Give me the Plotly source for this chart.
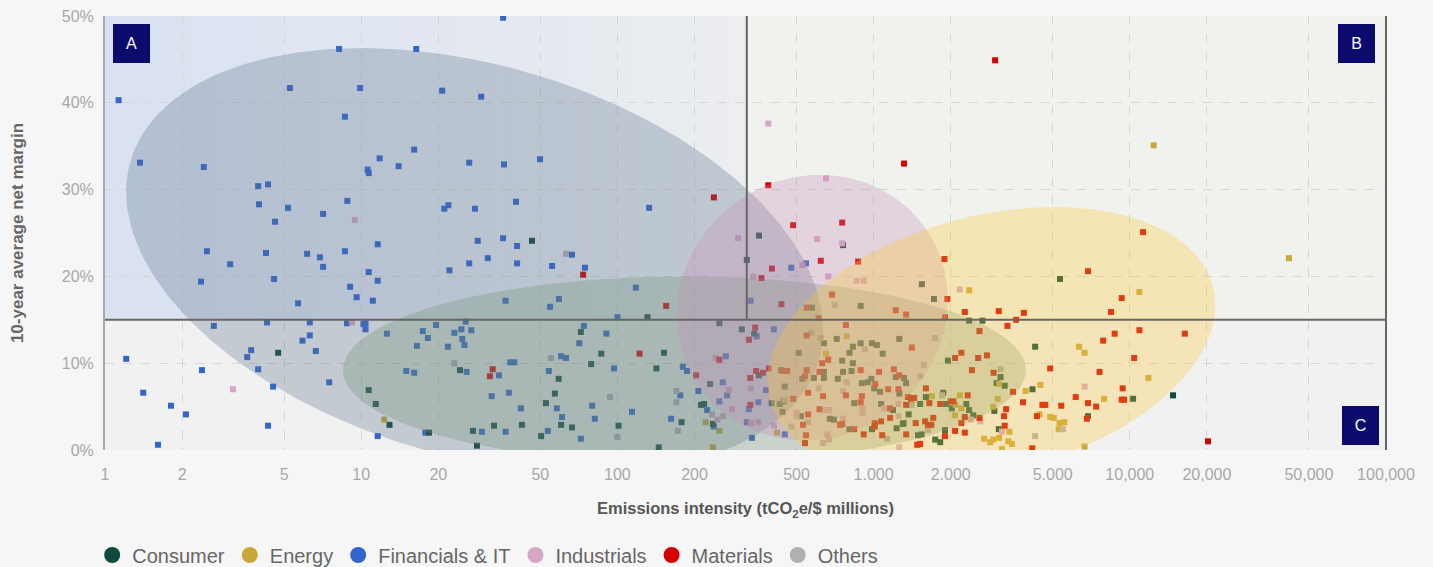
import numpy as np
import plotly.graph_objects as go

# ---------------- data ----------------
categories = ["Consumer", "Energy", "Financials & IT", "Industrials", "Materials", "Others"]

fin_x = [8.2, 16.4, 5.27, 9.9, 1.13, 8.64, 16.1, 11.8, 14.0, 10.6, 10.7, 1.37, 2.43, 3.96, 4.33, 3.99, 5.18, 8.83, 7.1, 4.61,
         11.6, 2.5, 4.25, 6.15, 6.9, 8.64, 3.08, 7.1, 2.37, 4.57, 10.7, 11.6, 9.05, 9.6, 11.1, 5.67,
         35.8, 20.7, 29.4, 26.4, 36.1, 49.9, 21.1, 21.9, 27.8, 40.2, 133, 28.5, 35.8, 40.6, 26.4, 31.2, 40.6, 22.1, 66.5,
         55.6, 74.7, 118, 36.6, 59.1, 54.6, 100, 331,
         2.66, 4.29, 6.3, 8.8, 10.2, 10.4, 10.4, 12.6, 17.4, 18.2, 16.5, 5.9, 6.3, 6.65, 3.72, 3.59, 1.21, 2.39, 3.96, 7.5,
         4.53, 1.41, 1.81, 2.07, 4.33, 1.61, 11.6, 15.0, 16.1, 17.8,
         19.6, 23.1, 24.6, 25.6, 26.9, 24.8, 25.3, 21.8, 25.8, 34.5, 32.3, 29.6,
         74, 90.6, 71, 97, 180, 187, 38.2, 39.6, 60.3, 63, 54, 37.7, 58, 42, 60.8, 79.7, 81.6, 114, 176, 162, 72, 53.5, 36.6,
         545, 477, 350, 408, 265, 380, 355, 258, 207, 268, 250, 326, 224, 238, 320, 335, 450]
fin_y = [46.2, 46.2, 41.7, 41.7, 40.3, 38.4, 34.6, 33.6, 32.7, 32.3, 31.9, 33.1, 32.6, 30.4, 30.6, 28.3, 27.9, 28.7, 27.2, 26.3,
         23.7, 22.9, 22.7, 22.6, 22.2, 22.9, 21.4, 21.1, 19.4, 19.7, 20.5, 19.5, 18.8, 17.6, 17.2, 16.9,
         49.8, 41.4, 40.7, 33.1, 32.9, 33.5, 27.8, 28.2, 27.8, 28.6, 27.9, 24.1, 24.4, 23.5, 21.5, 22.1, 21.5, 20.7, 22.5,
         21.2, 21.0, 18.7, 17.2, 17.4, 16.5, 15.3, 17.2,
         14.3, 14.7, 14.7, 14.6, 14.5, 14.6, 13.9, 13.4, 13.7, 12.9, 12.0, 12.6, 13.2, 11.4, 11.5, 10.7, 10.5, 9.2, 9.3, 7.8,
         7.3, 6.6, 5.1, 4.1, 2.8, 0.6, 1.6, 9.1, 8.9, 2.0,
         14.4, 13.5, 13.9, 14.8, 13.8, 12.8, 12.1, 11.9, 9.0, 8.6, 6.2, 2.1,
         14.3, 13.4, 12.3, 9.4, 9.6, 9.1, 10.1, 10.1, 10.8, 10.6, 9.1, 6.6, 4.8, 4.8, 3.8, 5.1, 3.6, 4.4, 6.3, 3.6, 1.3, 2.2, 2.1,
         21.5, 21.0, 13.1, 13.9, 10.8, 6.9, 5.5, 7.8, 6.8, 6.3, 5.6, 4.7, 4.6, 2.7, 3.2, 1.4, 1.8]

cons_x = [46.4, 357, 320, 131, 4.74, 10.7, 11.4, 12.9, 18.4, 24.3, 33.0, 27.3, 28.3, 72, 86.5, 152, 79, 142, 59, 57,
          52.6, 178, 145, 101, 66.5, 60.3, 50.4, 42.4, 760, 1543, 575, 890, 1720, 250, 306, 342, 640, 718, 830, 890,
          985, 1030, 1260, 1085, 805, 510, 754, 830, 1950, 760, 820, 1220, 1315, 1340, 357, 435, 640, 527, 585, 640,
          725, 900, 950, 980, 1005, 1060, 1260, 1600, 1870, 2020, 1520, 1190, 1070, 840, 450, 445, 430, 400, 230, 218,
          212, 236, 441, 520, 675, 700, 805, 985, 1300, 1310, 1230, 1370, 1490, 1540, 1740, 1820, 1900, 1920,
          5340, 2360, 2660, 4270, 3130, 3020, 3250, 4170, 14750, 10300, 6870, 3080, 2960, 2300, 2360, 2450]
cons_y = [24.1, 24.7, 21.9, 15.3, 11.2, 6.9, 5.3, 2.9, 2.0, 9.2, 2.8, 2.2, 0.5, 13.6, 11.1, 11.2, 9.9, 9.4, 8.2, 6.5,
          5.4, 3.2, 0.3, 2.8, 2.6, 2.9, 1.6, 2.9, 23.6, 19.1, 16.4, 16.6, 17.4, 14.6, 13.9, 13.4, 12.3, 12.8, 11.9, 12.3,
          12.3, 12.1, 12.8, 11.1, 11.2, 11.2, 10.3, 10.0, 10.3, 9.0, 9.1, 8.4, 8.3, 7.7, 8.6, 9.2, 9.0, 8.2, 8.3, 8.3,
          8.2, 7.7, 7.8, 8.2, 7.1, 6.7, 6.5, 6.1, 6.6, 4.8, 5.3, 4.6, 5.3, 5.4, 7.3, 5.6, 5.3, 5.4, 7.6, 5.3,
          5.2, 3.0, 4.4, 3.9, 3.6, 3.5, 2.4, 2.4, 3.0, 3.1, 2.5, 4.1, 1.7, 1.8, 1.2, 0.9, 2.3, 5.3,
          19.7, 14.9, 14.9, 11.9, 8.4, 7.7, 7.4, 7.0, 6.3, 5.9, 3.9, 2.4, 4.5, 5.3, 4.6, 4.0]

ene_x = [12.3, 785, 652, 1690, 2090, 221, 250, 236, 420, 2080, 41800, 10900, 2360, 6340, 6660, 3090, 11820, 4480, 3920, 7940,
         4440, 4890, 5050, 5550, 5320, 5280, 6660, 3390, 3360, 3470, 3090, 2930, 2850, 2700, 3170, 2930, 3050, 2200, 2170, 12400]
ene_y = [3.5, 13.1, 11.1, 6.2, 5.2, 3.2, 2.2, 0.3, 2.0, 4.0, 22.1, 18.2, 18.4, 11.9, 11.2, 7.6, 8.3, 7.5, 6.8, 5.9,
         4.1, 3.8, 3.7, 3.2, 3.1, 2.4, 0.4, 2.1, 1.0, 0.7, 1.4, 1.2, 0.9, 1.3, 0.1, 5.0, 5.9, 4.8, 6.3, 35.1]

ind_x = [9.45, 296, 339, 9.2, 3.16, 652, 602, 754, 527, 665, 860, 917, 242, 1250, 760, 332, 272, 280, 258, 234,
         246, 332, 355, 408, 500, 500, 652, 670, 635, 660, 670, 760, 905, 905, 1100, 1250, 1260, 388, 2170, 6660,
         3170, 2610, 2400]
ind_y = [26.5, 24.4, 20.0, 14.7, 7.0, 31.3, 24.3, 23.8, 21.3, 20.0, 19.5, 19.5, 10.6, 5.3, 6.8, 7.1, 6.9, 4.7, 3.9, 4.1,
         3.5, 3.1, 3.2, 2.8, 4.3, 3.9, 4.6, 4.6, 0.8, 1.8, 1.2, 3.6, 4.8, 4.3, 4.8, 3.9, 0.3, 37.6, 18.5, 7.3,
         2.1, 3.3, 3.5]

mat_x = [238, 73.5, 155, 32.6, 31.8, 122, 203, 1315, 388, 485, 754, 622, 870, 401, 365, 1890, 437, 688, 548, 1940,
         1220, 1340, 1900, 610, 345, 326, 780, 548, 1410, 250, 630, 665, 2080, 890, 1050, 1200, 1260, 348, 370, 330,
         390, 445, 460, 548, 615, 540, 1015, 1140, 1250, 1600, 1360, 1400, 1440, 2000, 2050, 1820, 1650, 1340, 1160, 890,
         900, 780, 635, 555, 485, 330, 555, 530, 545, 540, 615, 740, 754, 840, 915, 1010, 1010, 1070, 1080, 1160,
         1460, 1590, 1630, 1680, 1710, 1340, 1480, 1520, 1900, 2080, 11270, 6870, 9300, 8450, 2270, 3080, 3860, 3600, 3330, 2590,
         16400, 10900, 8730, 7870, 10400, 2200, 2560, 2770, 2420, 2940, 4890, 7620, 9380, 3500, 9300, 9500, 6150, 6870, 7390, 5400,
         4560, 4680, 3830, 3290, 3230, 4340, 6800, 4160, 3250, 2590, 2200, 2270, 2270, 2330, 2980, 20200]
mat_y = [29.1, 20.2, 16.6, 9.3, 8.5, 11.1, 8.6, 33.0, 30.5, 25.9, 26.2, 21.8, 21.7, 20.9, 19.8, 22.0, 16.8, 17.9, 16.4, 17.4,
         16.1, 15.6, 15.3, 15.2, 14.1, 12.7, 14.4, 13.2, 11.8, 10.4, 10.0, 10.4, 10.6, 9.2, 9.0, 9.3, 8.6, 9.1, 8.9, 8.3,
         9.4, 9.1, 9.1, 9.2, 9.0, 8.5, 7.6, 7.0, 7.0, 7.1, 6.1, 5.9, 6.0, 5.6, 5.6, 5.3, 5.4, 5.2, 4.8, 5.5,
         6.2, 6.3, 6.2, 6.6, 5.9, 5.2, 4.1, 2.9, 1.7, 0.8, 4.7, 2.9, 3.0, 2.4, 1.8, 3.1, 2.7, 3.3, 1.7, 3.7,
         3.1, 3.3, 2.9, 2.9, 3.7, 1.8, 0.6, 0.7, 1.6, 2.2, 25.1, 20.6, 17.5, 15.9, 15.9, 16.0, 15.8, 15.0, 14.3, 13.7,
         13.4, 13.8, 13.4, 12.6, 10.6, 11.2, 10.6, 10.9, 9.2, 8.9, 9.4, 9.0, 7.1, 6.7, 5.8, 5.8, 6.1, 5.4, 5.0, 5.1,
         5.2, 5.2, 5.5, 4.7, 3.9, 3.9, 3.6, 0.2, 2.8, 3.7, 3.1, 2.0, 3.8, 6.3, 44.9, 1.0]

oth_x = [63, 23.1, 55, 93.5, 170, 170, 172, 100, 705, 570, 622, 925, 1740, 1570, 1520, 1850, 1410, 610, 785, 450,
         477, 555, 1630, 1130, 3130, 5480, 4270]
oth_y = [22.6, 10.0, 10.6, 6.1, 6.8, 5.5, 2.2, 1.5, 16.7, 13.5, 12.9, 11.6, 12.9, 9.8, 8.5, 6.3, 5.2, 7.1, 7.8, 5.8,
         2.7, 3.2, 2.3, 1.3, 9.3, 2.4, 1.6]

# sector clusters (ellipses): centre, half-extent (decades / %-points), correlation
ell_cx = [27.7, 182.7, 577, 2884]
ell_cy = [21.8, 9.2, 16.4, 12.3]
ell_sx = [1.36, 1.333, 0.529, 0.874]
ell_sy = [24.5, 10.8, 15.3, 15.7]
ell_rho = [-0.324, 0.0, 0.057, 0.279]

x_tickvals = [1, 2, 5, 10, 20, 50, 100, 200, 500, 1000, 2000, 5000, 10000, 20000, 50000, 100000]
x_ticktext = ["1", "2", "5", "10", "20", "50", "100", "200", "500", "1.000", "2.000", "5.000",
              "10,000", "20,000", "50,000", "100,000"]
y_tickvals = [0, 10, 20, 30, 40, 50]
y_ticktext = ["0%", "10%", "20%", "30%", "40%", "50%"]

# ---------------- styling ----------------
FONT = "Liberation Sans"
cat_colors = ["#0e4a3c", "#c9a73c", "#3366cc", "#d9a5c5", "#d40000", "#b0b0b0"]
ell_fill = ["rgba(88,111,138,0.3)", "rgba(108,142,117,0.3)", "rgba(200,139,178,0.3)", "rgba(255,200,50,0.3)"]

series = [(cons_x, cons_y), (ene_x, ene_y), (fin_x, fin_y), (ind_x, ind_y), (mat_x, mat_y), (oth_x, oth_y)]

fig = go.Figure()
draw_order = [2, 0, 3, 1, 5, 4]
for i in draw_order:
    xs, ys = series[i]
    fig.add_trace(go.Scatter(x=xs, y=ys, mode="markers", name=categories[i], showlegend=False,
                             marker=dict(symbol="square", size=6, color=cat_colors[i], line=dict(width=0)),
                             hoverinfo="skip"))

t = np.linspace(0, 2 * np.pi, 240)
for k in range(len(ell_cx)):
    lx = np.log10(ell_cx[k]) + ell_sx[k] * np.cos(t)
    ly = ell_cy[k] + ell_sy[k] * (ell_rho[k] * np.cos(t) + np.sqrt(1 - ell_rho[k] ** 2) * np.sin(t))
    fig.add_trace(go.Scatter(x=10 ** lx, y=ly, mode="lines", fill="toself", fillcolor=ell_fill[k],
                             line=dict(width=0), showlegend=False, hoverinfo="skip"))

# legend entries (circles)
for i, c in enumerate(categories):
    fig.add_trace(go.Scatter(x=[None], y=[None], mode="markers", name=c,
                             marker=dict(symbol="circle", size=16, color=cat_colors[i])))

shapes = []
DIV = 0.501
shapes.append(dict(type="rect", xref="x domain", yref="y", x0=DIV, x1=1, y0=15, y1=50,
                   fillcolor="#f0f2ee", line=dict(width=0), layer="below"))
n = 40
c0 = np.array([218, 226, 242])
c1 = np.array([236, 238, 240])
for j in range(n):
    f = j / (n - 1)
    c = (c0 * (1 - f) + c1 * f).astype(int)
    shapes.append(dict(type="rect", xref="x domain", yref="y", x0=DIV * j / n, x1=DIV * (j + 1) / n + 0.001,
                       y0=15, y1=50, fillcolor=f"rgb({c[0]},{c[1]},{c[2]})", line=dict(width=0), layer="below"))
shapes.append(dict(type="line", xref="x domain", yref="y", x0=0, x1=1, y0=15, y1=15,
                   line=dict(color="#666666", width=2), layer="above"))
shapes.append(dict(type="line", xref="x domain", yref="y", x0=DIV, x1=DIV, y0=15, y1=50,
                   line=dict(color="#666666", width=2), layer="above"))
shapes.append(dict(type="line", xref="x domain", yref="y domain", x0=1, x1=1, y0=0, y1=1,
                   line=dict(color="#666666", width=2), layer="above"))

box = dict(bgcolor="#0d0a6e", font=dict(color="white", size=16, family=FONT), showarrow=False,
           width=37, height=39, borderpad=0, borderwidth=0, xref="x domain", yref="y domain")
annotations = [
    dict(text="A", x=0.0063, y=0.9816, xanchor="left", yanchor="top", **box),
    dict(text="B", x=0.9914, y=0.9816, xanchor="right", yanchor="top", **box),
    dict(text="C", x=0.9945, y=0.0115, xanchor="right", yanchor="bottom", **box),
]

fig.update_layout(
    width=1433, height=567,
    margin=dict(l=105, r=47, t=16, b=117, autoexpand=False),
    paper_bgcolor="#f6f6f6", plot_bgcolor="#f1f1f1",
    font=dict(family=FONT, color="#999999"),
    shapes=shapes, annotations=annotations,
    showlegend=True,
    legend=dict(orientation="h", x=-0.01, xanchor="left", y=-0.242, yanchor="middle",
                font=dict(size=20, color="#666666", family=FONT), itemwidth=30,
                bgcolor="rgba(0,0,0,0)", tracegroupgap=0),
)
fig.update_xaxes(type="log", range=[0, 5], tickvals=x_tickvals, ticktext=x_ticktext,
                 tickfont=dict(size=16, color="#a8a8a8", family=FONT),
                 showgrid=True, gridcolor="#d6d6d6", griddash="dash", gridwidth=1.3,
                 zeroline=False, showline=False, ticks="outside", ticklen=10, tickcolor="rgba(0,0,0,0)",
                 title=dict(text="<b>Emissions intensity (tCO<sub>2</sub>e/$ millions)</b>",
                            font=dict(size=16.5, color="#555555", family=FONT), standoff=20))
fig.update_yaxes(range=[0, 50], tickvals=y_tickvals, ticktext=y_ticktext,
                 tickfont=dict(size=16, color="#a8a8a8", family=FONT),
                 showgrid=True, gridcolor="#d6d6d6", griddash="dash", gridwidth=1.3,
                 zeroline=False, showline=True, linecolor="#a8a8a8", linewidth=2,
                 ticks="outside", ticklen=6, tickcolor="rgba(0,0,0,0)",
                 title=dict(text="<b>10-year average net margin</b>",
                            font=dict(size=17, color="#666666", family=FONT), standoff=34))

fig.write_html("out.html", config={"displayModeBar": False},
               post_script="document.body.style.margin='0';")
